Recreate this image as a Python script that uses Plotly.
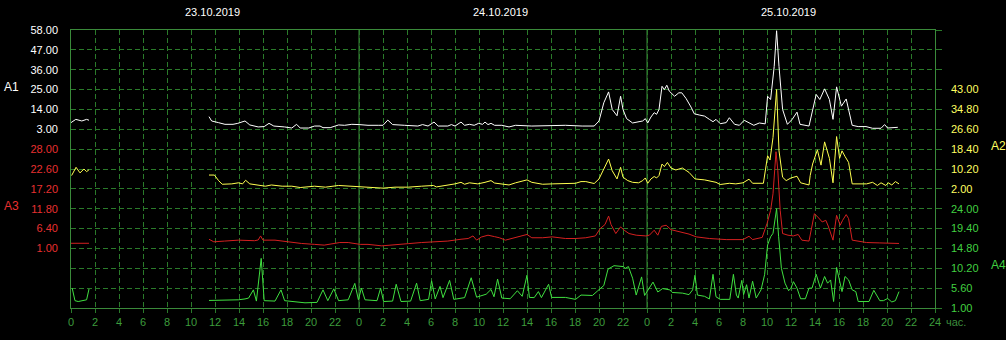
import plotly.graph_objects as go

# ---------------- data ----------------
DAYS = ["23.10.2019", "24.10.2019", "25.10.2019"]
HOURS_PER_DAY = 24
GRID_ROWS = 14

A1_TICKS = [3.0, 14.0, 25.0, 36.0, 47.0, 58.0]
A2_TICKS = [2.0, 10.2, 18.4, 26.6, 34.8, 43.0]
A3_TICKS = [1.0, 6.4, 11.8, 17.2, 22.6, 28.0]
A4_TICKS = [1.0, 5.6, 10.2, 14.8, 19.4, 24.0]

# (hour since 23.10 00:00, value); (None, None) = gap in the record
A1_POINTS = [
    (0, 6.7), (0.4, 8.5), (0.9, 7.6), (1.3, 8.5), (1.5, 8.0), (None, None),
    (11.5, 10.0), (11.72, 7.6), (12.28, 6.7), (12.83, 5.75), (13.5, 5.75), (13.9, 6.3), (14.5, 7.6),
    (14.9, 5.4), (15.6, 4.3), (16.1, 4.5), (16.5, 6.3), (16.9, 4.8), (17.8, 4.3), (18.4, 3.7),
    (18.8, 5.75), (19.1, 3.7), (19.8, 3.7), (20.3, 4.8), (20.75, 4.8), (21.0, 3.9), (21.6, 3.9),
    (22.3, 5.4), (22.8, 5.2), (23.4, 5.75), (24.0, 5.6), (24.75, 5.2), (25.6, 5.2), (26.0, 5.2),
    (26.4, 8.1), (26.8, 5.6), (27.8, 5.2), (28.9, 4.8), (29.3, 5.6), (29.75, 4.8), (30.25, 7.0),
    (30.6, 4.8), (31.4, 4.8), (31.7, 5.6), (32.0, 4.8), (32.5, 7.0), (32.8, 5.2), (33.2, 5.75),
    (33.6, 5.2), (33.97, 6.3), (34.3, 5.75), (34.5, 7.0), (34.75, 5.6), (35.0, 6.3), (35.3, 5.2),
    (35.9, 5.2), (36.5, 4.3), (37.05, 5.2), (38.4, 4.8), (39.8, 5.2), (41.2, 5.2), (42.6, 4.8),
    (43.6, 4.8), (44.0, 7.6), (44.4, 17.7), (44.8, 23.7), (45.1, 14.0), (45.5, 10.5), (45.8, 21.3),
    (46.0, 14.0), (46.3, 8.9), (46.8, 6.5), (47.3, 7.0), (47.64, 7.6), (47.86, 8.9), (48.06, 6.5),
    (48.33, 9.8), (48.6, 12.2), (48.8, 11.3), (49.0, 14.0), (49.25, 26.8), (49.45, 25.0),
    (49.65, 27.4), (49.86, 24.1), (50.3, 21.3), (50.65, 23.2), (50.9, 23.2), (51.25, 20.1),
    (51.67, 15.3), (51.94, 11.6), (52.36, 10.9), (52.8, 10.3), (53.2, 8.5), (53.5, 7.2),
    (53.75, 8.5), (54.1, 6.1), (54.6, 6.7), (54.86, 9.4), (55.3, 5.75), (55.7, 5.2), (56.1, 8.0),
    (56.5, 6.7), (56.9, 5.2), (57.36, 6.5), (57.85, 6.0), (58.05, 21.3), (58.3, 19.5), (58.6, 37.8),
    (58.8, 57.6), (59.0, 37.8), (59.3, 14.0), (59.7, 5.75), (60.1, 8.5), (60.5, 12.5), (60.75, 5.75),
    (61.5, 4.8), (61.8, 14.0), (62.1, 22.3), (62.4, 19.5), (62.8, 25.4), (63.2, 19.5), (63.5, 8.5),
    (63.8, 26.5), (64.2, 15.8), (64.6, 19.8), (65.1, 5.2), (65.6, 4.5), (66.25, 4.5), (66.8, 3.55),
    (67.5, 3.55), (67.8, 5.6), (68.05, 3.7), (68.9, 4.1),
]

A2_POINTS = [
    (0.05, 7.5), (0.42, 10.9), (0.75, 8.6), (1.08, 10.2), (1.3, 9.1), (1.5, 9.9), (None, None),
    (11.5, 7.7), (11.95, 7.7), (12.3, 5.4), (12.6, 3.9), (13.4, 4.05), (13.95, 4.5), (14.3, 4.05),
    (14.55, 5.55), (14.9, 4.05), (15.6, 3.6), (16.2, 3.1), (16.7, 3.6), (17.6, 3.1), (18.4, 3.1),
    (19.1, 2.55), (20.3, 3.1), (21.2, 2.7), (22.3, 3.4), (23.4, 3.1), (24.1, 2.7), (24.75, 2.7),
    (26.0, 2.3), (27.0, 2.7), (28.1, 2.7), (29.2, 3.1), (30.2, 3.4), (30.45, 2.8), (31.4, 3.4),
    (32.0, 4.05), (32.5, 4.7), (32.8, 3.9), (33.2, 4.5), (33.9, 4.05), (34.5, 4.7), (35.0, 5.4),
    (35.3, 4.4), (35.9, 4.05), (36.5, 3.6), (37.05, 4.5), (38.0, 5.7), (38.4, 4.7), (39.3, 3.9),
    (40.1, 4.05), (41.2, 4.2), (42.05, 4.3), (42.5, 5.0), (42.9, 5.0), (43.6, 4.2), (44.0, 6.1),
    (44.4, 10.2), (44.8, 14.3), (45.1, 9.5), (45.5, 6.1), (45.8, 10.9), (46.0, 6.8), (46.4, 5.4),
    (46.8, 4.7), (47.3, 4.5), (47.64, 5.4), (47.86, 6.5), (48.06, 4.3), (48.33, 6.1), (48.6, 7.1),
    (48.8, 6.5), (49.0, 7.5), (49.25, 12.25), (49.45, 11.2), (49.7, 12.9), (50.0, 10.6),
    (50.4, 9.8), (50.95, 10.6), (51.5, 8.8), (52.0, 6.1), (52.8, 5.7), (53.75, 4.7), (54.1, 3.8),
    (54.86, 4.3), (55.4, 4.05), (56.0, 4.5), (56.5, 6.0), (56.8, 4.3), (57.7, 4.3), (58.05, 15.7),
    (58.25, 13.9), (58.5, 23.2), (58.8, 43.0), (59.0, 17.7), (59.3, 6.8), (59.6, 5.4), (60.0, 6.5),
    (60.5, 7.2), (60.8, 4.5), (61.5, 3.6), (61.6, 7.5), (61.8, 12.25), (62.2, 18.1), (62.4, 14.0),
    (62.5, 11.8), (62.8, 21.4), (63.0, 18.1), (63.2, 14.6), (63.5, 4.5), (63.8, 23.6),
    (64.05, 14.6), (64.25, 17.7), (64.5, 15.4), (64.8, 12.9), (65.1, 4.05), (66.3, 4.05),
    (66.8, 4.7), (67.2, 3.4), (67.5, 4.5), (67.9, 3.4), (68.1, 4.5), (68.4, 3.6), (68.7, 5.0),
    (69.0, 4.05),
]

A3_POINTS = [
    (0, 2.4), (1.5, 2.4), (None, None),
    (11.5, 3.5), (11.9, 2.8), (12.8, 3.0), (13.95, 3.25), (15.3, 3.1), (15.6, 3.3), (15.8, 4.4),
    (16.0, 3.25), (17.0, 3.25), (18.0, 2.8), (19.2, 2.35), (20.3, 2.1), (21.1, 1.9), (22.4, 2.6),
    (23.1, 2.6), (24.1, 2.1), (24.75, 2.1), (25.9, 1.7), (27.0, 2.1), (28.1, 2.3), (29.2, 2.6),
    (30.3, 2.8), (31.4, 3.0), (32.5, 3.5), (33.1, 3.7), (33.5, 4.4), (33.8, 3.25), (34.2, 4.1),
    (34.75, 4.6), (35.3, 4.2), (35.7, 3.9), (36.2, 3.25), (36.9, 3.9), (38.0, 4.8), (38.4, 3.9),
    (39.3, 3.9), (40.1, 4.15), (41.2, 3.7), (42.05, 3.7), (42.9, 3.9), (43.7, 4.4), (44.1, 6.4),
    (44.5, 7.5), (44.8, 9.8), (45.0, 7.5), (45.4, 5.05), (45.8, 6.85), (46.1, 5.95), (46.5, 5.05),
    (47.1, 4.6), (47.9, 4.4), (48.2, 4.6), (48.6, 5.95), (48.9, 4.6), (49.2, 7.0), (49.6, 7.3),
    (50.0, 6.1), (50.4, 5.8), (50.95, 5.5), (51.5, 4.9), (52.1, 4.15), (53.2, 3.7), (54.6, 3.4),
    (56.0, 3.4), (56.5, 4.3), (56.8, 3.4), (57.6, 4.0), (58.0, 7.75), (58.3, 11.35), (58.5, 15.85),
    (58.75, 27.3), (58.9, 22.2), (59.1, 11.35), (59.3, 5.05), (59.75, 4.6), (60.2, 4.4),
    (60.6, 4.8), (60.9, 3.25), (61.5, 3.0), (61.7, 5.95), (61.95, 10.45), (62.3, 9.3), (62.6, 8.2),
    (62.9, 8.65), (63.1, 7.1), (63.5, 3.25), (63.8, 10.0), (64.1, 7.3), (64.3, 8.65), (64.6, 10.2),
    (64.8, 9.1), (65.1, 3.25), (65.5, 3.0), (66.3, 2.6), (67.4, 2.5), (69.0, 2.35),
]

A4_POINTS = [
    (0.1, 5.6), (0.33, 2.7), (0.6, 2.5), (1.0, 2.8), (1.3, 2.9), (1.5, 5.4), (None, None),
    (11.5, 2.75), (12.8, 2.75), (13.95, 2.9), (14.5, 3.1), (14.8, 3.3), (15.2, 5.2), (15.45, 2.6),
    (15.85, 12.5), (16.1, 2.7), (17.0, 2.6), (17.5, 5.2), (17.8, 2.7), (18.5, 2.5), (19.5, 2.2),
    (20.5, 2.3), (21.0, 5.2), (21.4, 2.7), (21.9, 5.45), (22.3, 2.7), (23.1, 2.9), (23.65, 6.7),
    (23.95, 2.9), (24.2, 5.6), (24.5, 2.9), (25.5, 2.7), (25.8, 5.6), (26.05, 2.5), (26.8, 2.6),
    (27.1, 6.5), (27.5, 2.5), (28.3, 2.6), (28.8, 6.75), (29.1, 2.7), (29.8, 3.0), (30.05, 7.3),
    (30.35, 3.1), (30.75, 6.0), (31.0, 3.4), (31.55, 7.4), (31.9, 3.0), (32.8, 3.4), (33.35, 8.0),
    (33.8, 3.5), (34.6, 4.2), (35.0, 5.3), (35.25, 3.6), (35.55, 7.7), (35.9, 3.3), (36.6, 3.15),
    (37.2, 5.0), (37.6, 3.7), (38.0, 8.6), (38.2, 3.45), (38.6, 3.4), (38.95, 4.8), (39.2, 3.4),
    (39.8, 6.5), (40.05, 3.45), (41.2, 3.45), (42.05, 3.0), (42.5, 4.0), (43.45, 3.9), (43.9, 5.0),
    (44.4, 6.2), (44.75, 10.0), (45.25, 10.8), (46.0, 10.6), (46.2, 10.2), (46.45, 10.6),
    (46.8, 7.9), (47.1, 4.0), (47.55, 8.2), (47.8, 3.9), (48.0, 4.8), (48.5, 7.0), (48.9, 4.7),
    (49.3, 5.5), (49.9, 5.2), (50.1, 4.6), (50.95, 4.45), (51.5, 4.1), (51.8, 5.2), (52.0, 8.6),
    (52.2, 4.0), (52.8, 3.7), (53.2, 3.1), (53.5, 8.8), (53.75, 3.6), (54.1, 3.0), (54.9, 3.0),
    (55.2, 8.8), (55.45, 4.0), (55.6, 3.3), (55.9, 7.4), (56.05, 4.1), (56.3, 6.4), (56.5, 3.3),
    (56.8, 7.2), (57.1, 3.3), (57.5, 5.2), (57.8, 8.7), (58.05, 15.6), (58.3, 17.5), (58.5, 18.3),
    (58.8, 24.0), (58.97, 17.5), (59.2, 10.2), (59.5, 6.75), (59.8, 5.0), (60.0, 5.6), (60.2, 7.1),
    (60.5, 5.6), (60.8, 3.15), (61.2, 3.15), (61.5, 5.6), (61.75, 5.6), (62.1, 8.8), (62.45, 5.6),
    (62.8, 8.3), (63.05, 6.75), (63.3, 7.5), (63.55, 2.5), (63.8, 10.4), (64.0, 7.9), (64.25, 4.8),
    (64.5, 8.3), (64.8, 7.5), (65.1, 5.2), (65.4, 4.8), (65.6, 2.5), (66.5, 2.5), (66.9, 5.1),
    (67.4, 2.7), (67.7, 2.7), (68.05, 3.2), (68.4, 2.4), (68.7, 2.7), (69.0, 4.8),
]

# ---------------- styling ----------------
BG = "#000000"
GRID = "#2a7a2a"
BORDER = "#3a8a3a"
FONT = "Liberation Sans, Arial, sans-serif"
FS = 11

SERIES = [
    # name, points, axis, line colour, label colour, ticks, first grid row of its ticks, side
    ("A1", A1_POINTS, "y2", "#ffffff", "#ffffff", A1_TICKS, 9, "left"),
    ("A2", A2_POINTS, "y4", "#ffff50", "#ffff60", A2_TICKS, 6, "right"),
    ("A3", A3_POINTS, "y3", "#d42020", "#e83030", A3_TICKS, 3, "left"),
    ("A4", A4_POINTS, "y5", "#40e040", "#40d040", A4_TICKS, 0, "right"),
]

W, H = 1006, 340
ML, MR, MT, MB = 71, 71, 30, 30
PW, PH = W - ML - MR, H - MT - MB

total_hours = HOURS_PER_DAY * len(DAYS)

fig = go.Figure()
# empty trace that owns the base (grid) subplot
fig.add_trace(go.Scatter(x=[None], y=[None], xaxis="x", yaxis="y", mode="lines",
                         hoverinfo="skip", showlegend=False))
for name, pts, ax, lc, _, _, _, _ in SERIES:
    xs = [p[0] for p in pts]
    ys = [p[1] for p in pts]
    fig.add_trace(go.Scatter(x=xs, y=ys, mode="lines", xaxis="x", yaxis=ax, name=name,
                             line=dict(color=lc, width=1), connectgaps=False,
                             hoverinfo="skip", showlegend=False))

xt = list(range(0, total_hours + 1, 2))
xtext = [str(h % HOURS_PER_DAY) for h in xt[:-1]] + [str(HOURS_PER_DAY)]

layout = dict(
    width=W, height=H,
    margin=dict(l=ML, r=MR, t=MT, b=MB, pad=0),
    paper_bgcolor=BG, plot_bgcolor=BG,
    font=dict(family=FONT, size=FS, color="#ffffff"),
    showlegend=False,
    hovermode=False,
    xaxis=dict(range=[0, total_hours], tickvals=xt, ticktext=xtext, anchor="y",
               showgrid=True, gridcolor=GRID, griddash="5px,3px", gridwidth=1,
               ticks="outside", ticklen=4, tickcolor=GRID,
               tickfont=dict(color="#3c9c3c", size=FS, family=FONT),
               showline=True, linecolor=BORDER, linewidth=1, mirror=True,
               zeroline=False, fixedrange=True),
    yaxis=dict(range=[0, GRID_ROWS], dtick=1, tick0=0, side="right", anchor="x",
               showgrid=True, gridcolor=GRID, griddash="5px,3px", gridwidth=1,
               ticks="outside", ticklen=6, tickcolor=GRID, showticklabels=False,
               showline=True, linecolor=BORDER, linewidth=1, mirror=True,
               zeroline=False, fixedrange=True),
)

axis_key = {"y2": "yaxis2", "y3": "yaxis3", "y4": "yaxis4", "y5": "yaxis5"}
for name, pts, ax, lc, tc, ticks, row0, side in SERIES:
    step = ticks[1] - ticks[0]
    lo = ticks[0] - row0 * step
    hi = lo + GRID_ROWS * step
    layout[axis_key[ax]] = dict(
        range=[lo, hi], overlaying="y", anchor="x", side=side,
        tickvals=ticks, ticktext=[f"{v:.2f}" for v in ticks],
        tickfont=dict(color=tc, size=FS, family=FONT),
        showgrid=False, zeroline=False, showline=False, ticks="",
        ticklabelstandoff=12 if side == "left" else 15, fixedrange=True,
    )

fig.update_layout(**layout)

# day boundaries (solid)
for d in range(1, len(DAYS)):
    fig.add_shape(type="line", xref="x", yref="paper", x0=d * HOURS_PER_DAY, x1=d * HOURS_PER_DAY,
                  y0=0, y1=1, line=dict(color=BORDER, width=1), layer="below")

# day captions
for d, txt in enumerate(DAYS):
    fig.add_annotation(x=d * HOURS_PER_DAY + HOURS_PER_DAY / 2 - 0.25, xref="x",
                       y=(H - MB - 12) / PH, yref="paper", text=txt, showarrow=False,
                       font=dict(color="#ffffff", size=FS, family=FONT),
                       xanchor="center", yanchor="middle")

# series captions
for name, pts, ax, lc, tc, ticks, row0, side in SERIES:
    px = 11 if side == "left" else 998
    py = MT + (GRID_ROWS - row0 - 2.5) * (PH / GRID_ROWS) + 7
    fig.add_annotation(x=(px - ML) / PW, xref="paper", y=(H - MB - py) / PH, yref="paper",
                       text=name, showarrow=False, xanchor="center", yanchor="middle",
                       font=dict(color=tc, size=FS + 1, family=FONT))

# unit label after the last hour tick
fig.add_annotation(x=(956 - ML) / PW, xref="paper", y=(H - MB - 324) / PH, yref="paper",
                   text="час.", showarrow=False, xanchor="center", yanchor="middle",
                   font=dict(color="#3c8c3c", size=FS, family=FONT))

fig.write_html("out.html", config={"displayModeBar": False, "staticPlot": True})
